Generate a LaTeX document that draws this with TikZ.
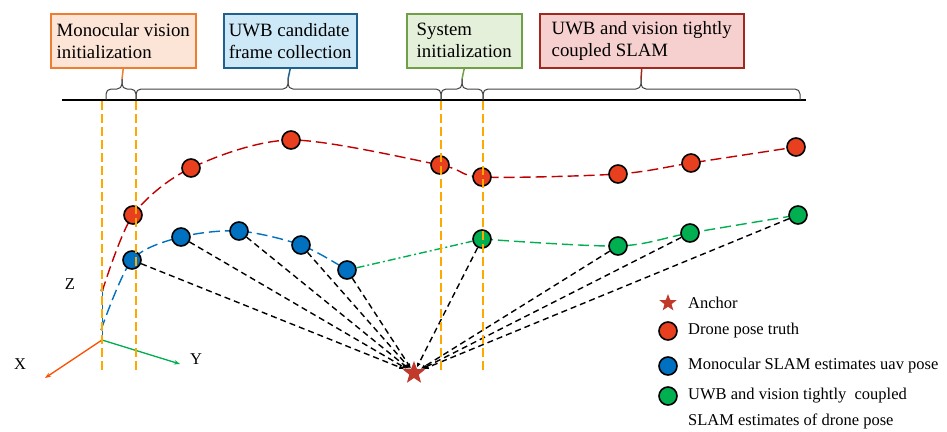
\documentclass[tikz,border=0pt]{standalone}
\usepackage{fontspec}
\setmainfont{Liberation Serif}
\usepackage{tikz}
\usetikzlibrary{shapes.geometric, positioning, arrows.meta, backgrounds, calc}
\definecolor{BoxOrange}{RGB}{237,125,49}
\definecolor{BoxOrangeFill}{RGB}{252,229,214}
\definecolor{BoxBlue}{RGB}{31,96,140}
\definecolor{BoxBlueFill}{RGB}{205,232,247}
\definecolor{BoxGreen}{RGB}{112,160,70}
\definecolor{BoxGreenFill}{RGB}{228,240,218}
\definecolor{BoxRed}{RGB}{160,40,30}
\definecolor{BoxRedFill}{RGB}{246,208,206}
\definecolor{TruthRed}{RGB}{232,64,30}
\definecolor{MonoBlue}{RGB}{0,112,192}
\definecolor{FuseGreen}{RGB}{0,176,80}
\definecolor{CurveRed}{RGB}{192,0,0}
\definecolor{GuideOrange}{RGB}{255,168,0}
\definecolor{StarRed}{RGB}{192,57,43}
\definecolor{AxisOrange}{RGB}{255,80,0}

\begin{document}
\begin{tikzpicture}[x=1pt, y=-1pt,
          box/.style={rectangle, line width=1.5pt, minimum height=54pt, inner xsep=3.5pt,
                      align=left, anchor=north west, font=\fontsize{18.8}{22}\selectfont},
          pose/.style={circle, draw=black, line width=1.6pt, minimum size=18pt, inner sep=0pt},
          truth/.style={pose, fill=TruthRed},
          mono/.style={pose, fill=MonoBlue},
          fused/.style={pose, fill=FuseGreen},
          anchorstar/.style={star, star points=5, star point ratio=2.4, fill=StarRed,
                             inner sep=0pt, minimum size=24pt},
          link/.style={black, line width=1.4pt, dash pattern=on 6pt off 4pt,
                       -{Latex[length=5pt, width=4pt]}},
          guide/.style={GuideOrange, line width=1.8pt, dash pattern=on 9pt off 4pt},
          brc/.style={black!75, line width=1pt, rounded corners=5pt},
          legtext/.style={inner sep=0pt, anchor=west, font=\fontsize{16.5}{20}\selectfont},
          axlabel/.style={inner sep=0pt, font=\fontsize{16.5}{20}\selectfont}
        ]
        \useasboundingbox (0,0) rectangle (947,431);

        % phase boxes
        \node[box, draw=BoxOrange, fill=BoxOrangeFill, minimum width=145pt] (mvi) at (50,13)
              {Monocular vision\\initialization};
        \node[box, draw=BoxBlue, fill=BoxBlueFill, minimum width=133pt] (ucf) at (223,13)
              {UWB candidate\\frame collection};
        \node[box, draw=BoxGreen, fill=BoxGreenFill, minimum width=115pt] (sin) at (406,13)
              {System\\initialization};
        \node[box, draw=BoxRed, fill=BoxRedFill, minimum width=204pt] (tcs) at (539,13)
              {UWB and vision tightly\\coupled SLAM};

        % time line and braces
        \draw[black, line width=1.1pt] (62,100) -- (806,100);
        \foreach \a/\m/\b/\n in {106/122/136/1, 136/288/441/2, 441/462/483/3, 483/641/800/4}{
          \draw[brc] (\a,100) -- (\a,89) -- (\m,89) -- (\m,79);
          \draw[brc] (\b,100) -- (\b,89) -- (\m,89) -- (\m,79);
          \coordinate (tip\n) at (\m,79);
        }
        \draw[BoxOrange, line width=1.5pt] (mvi.south) -- (tip1);
        \draw[BoxBlue, line width=1.5pt] (ucf.south) -- (tip2);
        \draw[BoxGreen, line width=1.5pt] (sin.south) -- (tip3);
        \draw[BoxRed, line width=1.5pt] (tcs.south) -- (tip4);

        % poses
        \node[truth] (r1) at (133,215) {};
        \node[truth] (r2) at (191,168) {};
        \node[truth] (r3) at (291,140) {};
        \node[truth] (r4) at (440,165) {};
        \node[truth] (r5) at (482,177) {};
        \node[truth] (r6) at (618,174) {};
        \node[truth] (r7) at (691,163) {};
        \node[truth] (r8) at (796,147) {};

        \node[mono] (b1) at (132,260) {};
        \node[mono] (b2) at (181,237) {};
        \node[mono] (b3) at (239,231) {};
        \node[mono] (b4) at (301,245) {};
        \node[mono] (b5) at (347,270) {};

        \node[fused] (g1) at (482,239) {};
        \node[fused] (g2) at (618,246) {};
        \node[fused] (g3) at (690,233) {};
        \node[fused] (g4) at (798,215) {};

        \node[anchorstar] (anc) at (414,373) {};

        % axes
        \coordinate (O) at (102,340);
        \coordinate (xax) at (45,378);
        \coordinate (yax) at (180,364);
        \coordinate (zax) at (102,286);
        \coordinate (rstart) at (102,292);
        \coordinate (bstart) at (101,330);
        \draw[AxisOrange, line width=1.3pt, -{Stealth[length=6pt]}] (O) -- (xax);
        \draw[FuseGreen, line width=1.3pt, -{Stealth[length=6pt]}] (O) -- (yax);
        \draw[MonoBlue, line width=1pt, -{Stealth[length=5pt]}] (O) -- (zax);
        \node[axlabel] (xl) at (20,364) {X};
        \node[axlabel] (yl) at (196,359) {Y};
        \node[axlabel] (zl) at (70,284) {Z};

        \begin{scope}[on background layer]
          \draw[CurveRed, line width=1.4pt, dash pattern=on 11pt off 5pt]
                plot[smooth] coordinates {(rstart) (r1.center) (r2.center) (r3.center) (r4.center)
                                          (r5.center) (r6.center) (r7.center) (r8.center)};
          \draw[MonoBlue, line width=1.4pt, dash pattern=on 11pt off 5pt]
                plot[smooth] coordinates {(bstart) (b1.center) (b2.center) (b3.center)
                                          (b4.center) (b5.center)};
          \draw[FuseGreen, line width=1.4pt, dash pattern=on 11pt off 5pt]
                plot[smooth] coordinates {(g1.center) (g2.center) (g3.center) (g4.center)};
          \draw[FuseGreen, line width=1.4pt, dash pattern=on 8pt off 3pt on 2pt off 3pt]
                (b5) -- (g1);
        \end{scope}

        % ranging links to the anchor
        \draw[link] (b1) -- (anc);
        \draw[link] (b2) -- (anc);
        \draw[link] (b3) -- (anc);
        \draw[link] (b4) -- (anc);
        \draw[link] (b5) -- (anc);
        \draw[link] (g1) -- (anc);
        \draw[link] (g2) -- (anc);
        \draw[link] (g3) -- (anc);
        \draw[link] (g4) -- (anc);

        % phase borders
        \foreach \x in {102,136,441,483}
          \draw[guide] (\x,101) -- (\x,372);

        % legend
        \node[anchorstar, minimum size=18pt] (lg1) at (668,303) {};
        \node[truth] (lg2) at (668,331) {};
        \node[mono] (lg3) at (668,366) {};
        \node[fused] (lg4) at (668,396) {};
        \node[legtext] (lt1) at (688,303) {Anchor};
        \node[legtext] (lt2) at (688,331) {Drone pose truth};
        \node[legtext] (lt3) at (688,366) {Monocular SLAM estimates uav pose};
        \node[legtext] (lt4) at (688,396) {UWB and vision tightly\ \ coupled};
        \node[legtext] (lt5) at (688,421) {SLAM estimates of drone pose};
      \end{tikzpicture}
\end{document}
